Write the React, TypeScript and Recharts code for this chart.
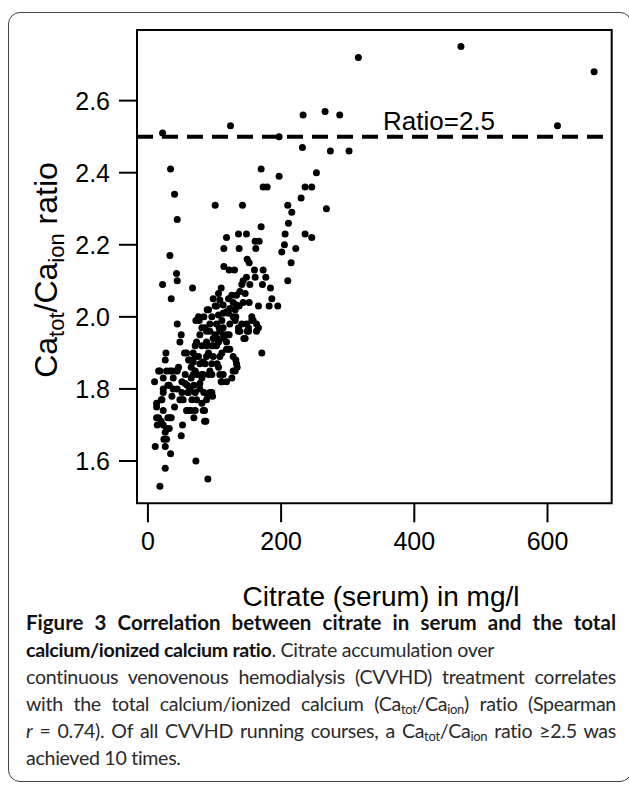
import React from "react"
import {
  ScatterChart,
  Scatter,
  XAxis,
  YAxis,
  ReferenceLine,
  ReferenceArea,
} from "recharts"

// Citrate (serum, mg/l) against the Ca_tot/Ca_ion ratio
const citrate = [
  316, 470, 670, 615, 22, 124, 197, 233, 266, 288,
  232, 274, 302, 34, 40, 44, 33, 101, 142, 170,
  173, 179, 197, 253, 236, 246, 230, 210, 216, 268,
  211, 170, 118, 136, 148, 114, 137, 161, 167, 162,
  206, 201, 205, 210, 215, 222, 236, 246, 43, 44,
  22, 35, 67, 44, 50, 48, 114, 122, 130, 149,
  152, 160, 173, 177, 148, 161, 143, 153, 141, 172,
  184, 186, 182, 195, 166, 152, 143, 138, 146, 133,
  126, 121, 110, 106, 98, 108, 103, 113, 123, 133,
  118, 106, 91, 89, 113, 121, 128, 137, 131, 101,
  96, 77, 93, 103, 113, 123, 131, 141, 136, 151,
  158, 163, 166, 148, 156, 128, 84, 72, 76, 132,
  156, 86, 111, 107, 101, 163, 146, 138, 149, 118,
  108, 98, 106, 78, 73, 88, 81, 88, 113, 122,
  114, 144, 81, 98, 118, 123, 171, 104, 93, 136,
  151, 118, 71, 96, 88, 58, 68, 76, 88, 98,
  111, 128, 133, 131, 118, 111, 126, 96, 86, 78,
  68, 61, 27, 26, 18, 23, 33, 38, 56, 68,
  81, 91, 96, 113, 128, 134, 132, 121, 103, 108,
  83, 91, 71, 63, 51, 59, 74, 65, 55, 16,
  28, 36, 44, 46, 10, 32, 23, 38, 44, 51,
  36, 20, 13, 13, 23, 40, 51, 58, 65, 69,
  85, 85, 13, 16, 14, 23, 30, 32, 28, 26,
  52, 50, 24, 11, 26, 34, 26, 18, 72, 90,
  110, 108, 106, 104, 97, 90, 84, 78, 69, 81,
  63, 60, 65, 71, 56, 53, 61, 66, 71, 78,
  73, 81, 88, 96, 93, 83, 48, 71, 61, 83,
  87, 33, 21, 28, 35, 20, 41, 30, 23, 93,
]

const caRatio = [
  2.72, 2.75, 2.68, 2.53, 2.51, 2.53, 2.5, 2.56, 2.57, 2.56,
  2.47, 2.46, 2.46, 2.41, 2.34, 2.27, 2.17, 2.31, 2.31, 2.41,
  2.36, 2.36, 2.39, 2.4, 2.36, 2.36, 2.33, 2.31, 2.29, 2.3,
  2.26, 2.25, 2.22, 2.23, 2.23, 2.19, 2.19, 2.21, 2.21, 2.19,
  2.23, 2.18, 2.2, 2.1, 2.15, 2.19, 2.23, 2.22, 2.12, 2.1,
  2.09, 2.05, 2.08, 1.98, 1.95, 1.93, 2.14, 2.13, 2.13, 2.16,
  2.15, 2.13, 2.13, 2.11, 2.11, 2.11, 2.1, 2.09, 2.09, 2.09,
  2.08, 2.05, 2.03, 2.03, 2.03, 2.04, 2.04, 2.07, 2.065, 2.06,
  2.06, 2.05, 2.08, 2.065, 2.05, 2.047, 2.03, 2.033, 2.023, 2.033,
  2.014, 2.005, 2.02, 2.02, 2.01, 2.01, 2.04, 2.03, 2.02, 2.03,
  2.0, 1.99, 1.98, 1.98, 1.97, 1.98, 1.99, 1.98, 1.97, 1.97,
  1.99, 1.98, 1.97, 1.98, 1.99, 2.0, 2.0, 1.99, 2.0, 2.0,
  2.0, 1.97, 1.99, 1.97, 1.95, 1.96, 1.94, 1.96, 1.96, 1.95,
  1.96, 1.94, 1.93, 1.95, 1.93, 1.93, 1.97, 1.96, 1.95, 1.95,
  1.94, 1.94, 1.92, 1.92, 1.91, 1.91, 1.9, 1.94, 1.96, 1.96,
  1.96, 1.93, 1.92, 1.92, 1.92, 1.9, 1.9, 1.89, 1.89, 1.89,
  1.9, 1.89, 1.87, 1.85, 1.82, 1.82, 1.83, 1.87, 1.87, 1.87,
  1.875, 1.88, 1.9, 1.88, 1.85, 1.83, 1.85, 1.83, 1.84, 1.84,
  1.84, 1.84, 1.84, 1.84, 1.85, 1.86, 1.88, 1.91, 1.92, 1.89,
  1.875, 1.9, 1.89, 1.88, 1.82, 1.81, 1.84, 1.83, 1.9, 1.85,
  1.85, 1.85, 1.85, 1.86, 1.82, 1.81, 1.79, 1.8, 1.8, 1.79,
  1.78, 1.77, 1.76, 1.75, 1.74, 1.75, 1.77, 1.74, 1.74, 1.72,
  1.71, 1.74, 1.72, 1.72, 1.7, 1.7, 1.72, 1.69, 1.69, 1.68,
  1.7, 1.67, 1.66, 1.64, 1.64, 1.62, 1.58, 1.53, 1.6, 1.55,
  1.82, 1.84, 1.86, 1.87, 1.78, 1.78, 1.79, 1.8, 1.81, 1.83,
  1.8, 1.79, 1.86, 1.85, 1.815, 1.77, 1.79, 1.77, 1.79, 1.815,
  1.77, 1.76, 1.77, 1.79, 1.85, 1.84, 1.77, 1.74, 1.74, 1.74,
  1.71, 1.72, 1.77, 1.66, 1.72, 1.71, 1.85, 1.81, 1.8, 1.79,
]

const xTicks = [0, 200, 400, 600]
const yTicks = [1.6, 1.8, 2.0, 2.2, 2.4, 2.6]
const xDomain = [-16.4, 696.4]
const yDomain = [1.4826, 2.796]
const threshold = 2.5

const data = citrate.map((c, i) => ({ citrate: c, ratio: caRatio[i] }))

const plotFont = "'Liberation Sans', Arial, Helvetica, sans-serif"
const captionFont = "Lato, 'Open Sans', sans-serif"

const Dot = (props: any) => (
  <circle cx={props.cx} cy={props.cy} r={3.5} fill="#000" />
)

// y title with subscripts, rotated like R's ylab
const YTitle = () => (
  <text
    transform="translate(57,270) rotate(-90)"
    textAnchor="middle"
    fontSize={32}
    fontFamily={plotFont}
    fill="#000"
  >
    Ca<tspan fontSize={22} dy={7}>tot</tspan>
    <tspan dy={-7}>/Ca</tspan>
    <tspan fontSize={22} dy={7}>ion</tspan>
    <tspan dy={-7}> ratio</tspan>
  </text>
)

const XTitle = () => (
  <text
    x={381}
    y={606}
    textAnchor="middle"
    fontSize={28}
    fontFamily={plotFont}
    fill="#000"
  >
    Citrate (serum) in mg/l
  </text>
)

const RatioLabel = (props: any) => {
  const vb = props.viewBox || { x: 137, y: 136.7 }
  return (
    <text
      x={vb.x + 246}
      y={vb.y - 7}
      fontSize={26}
      fontFamily={plotFont}
      fill="#000"
    >
      Ratio=2.5
    </text>
  )
}

const lineStyle: React.CSSProperties = {
  position: "absolute",
  left: 26,
  width: 590,
  whiteSpace: "nowrap",
  fontFamily: captionFont,
  fontSize: 19.6,
  letterSpacing: "-0.3px",
  lineHeight: "27px",
  color: "#2a2a2a",
}

const subStyle: React.CSSProperties = {
  fontSize: 13,
  verticalAlign: "-3px",
  lineHeight: 0,
}

export default function App() {
  const captionTop = 609
  return (
    <div
      style={{
        position: "absolute",
        left: 0,
        top: 0,
        width: 629,
        height: 785,
        overflow: "hidden",
        background: "#fff",
      }}
    >
      <div
        style={{
          position: "absolute",
          left: 8,
          top: 12,
          width: 624,
          height: 770,
          border: "1.5px solid #444",
          borderRadius: 12,
          boxSizing: "border-box",
        }}
      />
      <div style={{ position: "absolute", left: 0, top: 0 }}>
        <ScatterChart
          width={629}
          height={620}
          margin={{ top: 30, right: 17.3, bottom: 56.7, left: 77 }}
        >
          <XAxis
            type="number"
            dataKey="citrate"
            domain={xDomain}
            ticks={xTicks}
            allowDataOverflow
            height={60}
            axisLine={false}
            tickSize={19}
            tickMargin={10}
            tickLine={{ stroke: "#000", strokeWidth: 2 }}
            tick={{ fontSize: 25, fontFamily: plotFont, fill: "#000" }}
            label={{ content: XTitle }}
          />
          <YAxis
            type="number"
            dataKey="ratio"
            domain={yDomain}
            ticks={yTicks}
            allowDataOverflow
            width={60}
            axisLine={false}
            tickSize={18}
            tickMargin={9}
            tickFormatter={(v: number) => v.toFixed(1)}
            tickLine={{ stroke: "#000", strokeWidth: 2 }}
            tick={{ fontSize: 25, fontFamily: plotFont, fill: "#000" }}
            label={{ content: YTitle }}
          />
          <ReferenceArea
            x1={xDomain[0]}
            x2={xDomain[1]}
            y1={yDomain[0]}
            y2={yDomain[1]}
            fill="none"
            stroke="#000"
            strokeWidth={2}
            ifOverflow="visible"
          />
          <ReferenceLine
            y={threshold}
            stroke="#000"
            strokeWidth={4}
            strokeDasharray="16 9"
            label={{ content: RatioLabel }}
          />
          <Scatter data={data} shape={Dot} isAnimationActive={false} />
        </ScatterChart>
      </div>

      <div
        style={{
          ...lineStyle,
          top: captionTop,
          textAlignLast: "justify",
          fontWeight: 700,
          fontSize: 20.5,
          letterSpacing: "0px",
          color: "#111",
        }}
      >
        Figure 3 Correlation between citrate in serum and the total
      </div>
      <div style={{ ...lineStyle, top: captionTop + 27 }}>
        <b style={{ color: "#111" }}>calcium/ionized calcium ratio</b>. Citrate accumulation over
      </div>
      <div style={{ ...lineStyle, top: captionTop + 54, textAlignLast: "justify" }}>
        continuous venovenous hemodialysis (CVVHD) treatment correlates
      </div>
      <div style={{ ...lineStyle, top: captionTop + 81, textAlignLast: "justify" }}>
        with the total calcium/ionized calcium (Ca<span style={subStyle}>tot</span>/Ca
        <span style={subStyle}>ion</span>) ratio (Spearman
      </div>
      <div style={{ ...lineStyle, top: captionTop + 108, textAlignLast: "justify" }}>
        <i>r</i> = 0.74). Of all CVVHD running courses, a Ca<span style={subStyle}>tot</span>/Ca
        <span style={subStyle}>ion</span> ratio ≥2.5 was
      </div>
      <div style={{ ...lineStyle, top: captionTop + 135 }}>achieved 10 times.</div>
    </div>
  )
}
